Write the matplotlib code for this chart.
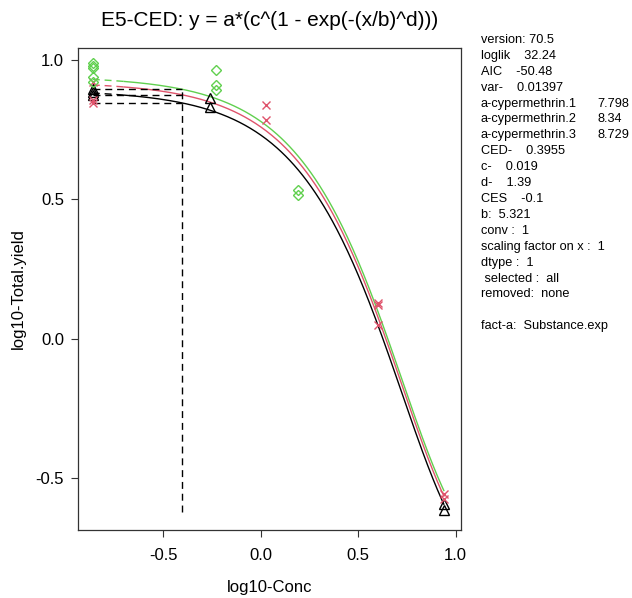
import numpy as np
import matplotlib
matplotlib.use("Agg")
import matplotlib.pyplot as plt

plt.rcParams['font.family'] = ['Liberation Sans', 'DejaVu Sans']

# ---- model parameters (from the chart's text panel) ----
substances = ["a-cypermethrin.1", "a-cypermethrin.2", "a-cypermethrin.3"]
a_values = [7.798, 8.34, 8.729]
c_par = 0.019
d_par = 1.39
b_par = 5.321
CED = 0.3955
CES = -0.1

# ---- observed data (log10 scale) ----
x_black = [-0.86, -0.86, -0.86, -0.26, -0.26, 0.94, 0.94]
y_black = [0.895, 0.885, 0.875, 0.864, 0.832, -0.59, -0.615]

x_red = [-0.86, -0.86, -0.86, 0.03, 0.03, 0.60, 0.60, 0.60, 0.94, 0.94]
y_red = [0.92, 0.857, 0.846, 0.839, 0.785, 0.129, 0.12, 0.05, -0.555, -0.575]

x_green = [-0.86, -0.86, -0.86, -0.86, -0.86, -0.23, -0.23, -0.23, 0.19, 0.19]
y_green = [0.99, 0.98, 0.97, 0.94, 0.92, 0.964, 0.91, 0.892, 0.534, 0.516]

x_ticks = [-0.5, 0.0, 0.5, 1.0]
y_ticks = [-0.5, 0.0, 0.5, 1.0]

colors = ["black", "#DF536B", "#61D04F"]

info_lines = [
    "version: 70.5",
    "loglik    32.24",
    "AIC    -50.48",
    "var-    0.01397",
    None, None, None,
    "CED-    0.3955",
    "c-    0.019",
    "d-    1.39",
    "CES    -0.1",
    "b:  5.321",
    "conv :  1",
    "scaling factor on x :  1",
    "dtype :  1",
    " selected :  all",
    "removed:  none",
    "",
    "fact-a:  Substance.exp",
]


def model(logx, a):
    x = 10.0 ** logx
    return np.log10(a) + np.log10(c_par) * (1 - np.exp(-(x / b_par) ** d_par))


fig = plt.figure(figsize=(6.32, 5.98), dpi=100)
ax = fig.add_axes([78 / 632, 1 - 530 / 598, (461 - 78) / 632, (530 - 48) / 598])

x_ctrl = -0.86
x_start = -0.70
x_end = 0.94
log_ced = np.log10(CED)
dash = (5, 3.5)

levels = []
for a, col in zip(a_values, colors):
    xs_d = np.linspace(x_ctrl, x_start, 30)
    ax.plot(xs_d, model(xs_d, a), color=col, lw=1.0, dashes=dash)
    xs = np.linspace(x_start, x_end, 300)
    ax.plot(xs, model(xs, a), color=col, lw=1.0)
    lev = np.log10(a * (1 + CES))
    levels.append(lev)
    ax.plot([x_ctrl, log_ced], [lev, lev], color="black", lw=1.0, dashes=dash)

ax.plot([log_ced, log_ced], [-0.62, max(levels)], color="black", lw=1.0, dashes=dash)

ax.plot(x_black, y_black, linestyle="none", marker="^", ms=7, mfc="none",
        mec=colors[0], mew=1.0)
ax.plot(x_red, y_red, linestyle="none", marker="x", ms=6, mec=colors[1], mew=1.0)
ax.plot(x_green, y_green, linestyle="none", marker="D", ms=5.5, mfc="none",
        mec=colors[2], mew=1.0)

ax.set_xlim(-0.936, 1.028)
ax.set_ylim(-0.685, 1.043)
ax.set_xticks(x_ticks)
ax.set_xticklabels([f"{v:.1f}" for v in x_ticks])
ax.set_yticks(y_ticks)
ax.set_yticklabels([f"{v:.1f}" for v in y_ticks])
ax.tick_params(direction="out", length=5, width=0.8, labelsize=12, color="#333333")
ax.tick_params(axis="x", pad=8)
ax.tick_params(axis="y", pad=5)
for s in ax.spines.values():
    s.set_linewidth(0.9)
    s.set_color("#333333")

ax.set_xlabel("log10-Conc", fontsize=12, labelpad=12)
ax.set_ylabel("log10-Total.yield", fontsize=12, labelpad=7)
fig.text((78 + 461) / 2 / 632, 1 - 20 / 598, "E5-CED: y = a*(c^(1 - exp(-(x/b)^d)))",
         ha="center", va="center", fontsize=15)

# text panel
x0 = 481 / 632
y0 = 1 - 40 / 598
dy = 15.9 / 598
for i, line in enumerate(info_lines):
    y = y0 - i * dy
    if line is None:
        k = i - 4
        fig.text(x0, y, substances[k], fontsize=9.2, va="center", ha="left")
        fig.text(597 / 632, y, f"{a_values[k]:g}", fontsize=9.2, va="center", ha="left")
    else:
        fig.text(x0, y, line, fontsize=9.2, va="center", ha="left")

fig.savefig("out.png", dpi=100)
